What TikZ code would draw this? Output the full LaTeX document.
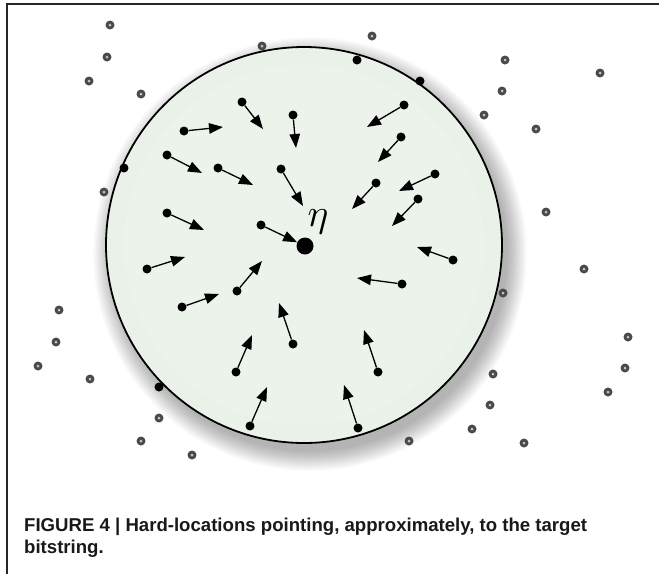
\documentclass[tikz,border=0pt]{standalone}
\usepackage{graphicx}
\usepackage{fontspec}
\setmainfont{Liberation Sans}
\usetikzlibrary{arrows.meta}
\definecolor{discfill}{HTML}{EBF3EB}
\definecolor{graydot}{HTML}{4A4A4A}
\tikzset{
  hl/.style={circle,fill=black,inner sep=0pt,minimum size=9pt},
  far/.style={circle,fill=graydot,inner sep=0pt,minimum size=9pt,
    path picture={\fill[gray!45] (path picture bounding box.center) circle (1.5pt);}},
  ptr/.style={line width=1.3pt,-{Triangle[length=14pt,width=10.5pt]}},
  frameline/.style={line width=1.3pt,black!85},
  caption/.style={anchor=base west,inner sep=0pt,font=\fontsize{18.6}{22}\selectfont\bfseries,text=black!90}
}
\begin{document}
\begin{tikzpicture}[x=1pt,y=-1pt]
\useasboundingbox (0,0) rectangle (659,574);
\fill[white] (0,0) rectangle (659,574);
% frame
\draw[frameline] (7,574) -- (7,4) -- (659,4);
% shadow
\foreach \i in {1,...,16}{
  \fill[black,opacity=0.018] (310,254) circle ({196+1.3*\i});
}
% disc
\fill[discfill] (304,245) circle (198);
\foreach \i in {1,...,8}{
  \draw[black,opacity=0.008,line width=2pt] (304,245) circle ({197-2*\i});
}
\draw[line width=1.8pt] (304,245) circle (198);
\node[circle,fill=black,inner sep=0pt,minimum size=17pt] (eta) at (305,246) {};
\node[inner sep=0pt] (etalabel) at (318,222) {\scalebox{3.9}{$\eta$}};
% hard locations with pointers: name/tail/tip
\foreach \n/\tx/\ty/\hx/\hy in {
 a/242/102/263/129, b/293/115/296/148, c/184/131/223/127, d/167/155/202/173,
 e/218/168/253/185, f/281/169/303/206, g/167/213/204/230,
 i/147/269/185/257, j/237/291/262/261, k/404/105/367/127, l/401/137/378/162,
 m/435/174/399/191, n/376/183/352/209, o/418/199/392/226, p/453/260/417/247,
 q/402/284/357/278, r/182/307/219/294, s/293/344/279/303, t/236/372/252/335,
 u/250/426/267/387, v/378/372/364/330, w/358/428/344/385}{
  \node[hl] (\n) at (\tx,\ty) {};
  \coordinate (\n tip) at (\hx,\hy);
  \draw[ptr] (\n) -- (\n tip);
}
\node[hl] (h) at (261,225) {};
\draw[ptr] (h) -- (eta);
% rim points
\node[hl] (rim1) at (357,60) {};
\node[hl] (rim2) at (420,81) {};
\node[hl] (rim3) at (124,168) {};
\node[hl] (rim4) at (159,387) {};
% far points
\foreach \x/\y [count=\k] in {110/25,107/57,89/81,141/94,262/46,104/192,
 372/36,505/60,600/73,502/91,484/115,536/129,546/212,584/269,
 59/310,56/342,38/366,90/379,159/418,141/441,192/455,
 503/293,628/337,625/368,608/392,493/374,490/405,472/429,524/443,409/441}{
  \node[far] (far\k) at (\x,\y) {};
}
% caption
\node[caption] (cap1) at (24,531) {FIGURE 4 | Hard-locations pointing, approximately, to the target};
\node[caption] (cap2) at (24,553) {bitstring.};
\end{tikzpicture}
\end{document}
